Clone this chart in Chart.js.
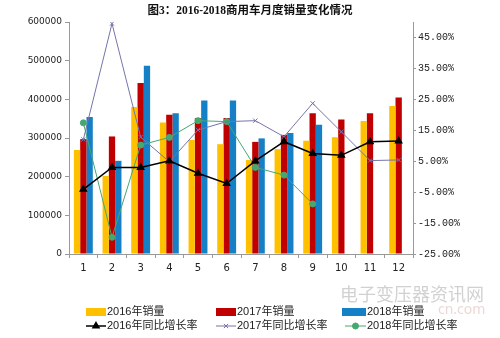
<!DOCTYPE html>
<html lang="zh">
<head>
  <meta charset="utf-8">
  <title>图3：2016-2018商用车月度销量变化情况</title>
  <script src="https://cdn.jsdelivr.net/npm/chart.js"></script>
  <style>
    html, body {
      margin: 0;
      padding: 0;
      background: #fff;
    }

    .wrap {
      position: relative;
      width: 500px;
      height: 338px;
    }

    .title {
      position: absolute;
      left: 0;
      top: 1px;
      width: 500px;
      text-align: center;
      font-family: 'Liberation Serif', 'Noto Sans CJK SC', serif;
      font-weight: bold;
      font-size: 11.5px;
      color: #111;
    }

    canvas {
      position: absolute;
      left: 0;
      top: 0;
    }
  </style>
</head>
<body>

<div class="wrap">
  <canvas id="salesChart" width="500" height="338"></canvas>
  <div class="title">图3：2016-2018商用车月度销量变化情况</div>
</div>

<script>
  // 月份
  const months = ['1', '2', '3', '4', '5', '6', '7', '8', '9', '10', '11', '12'];

  // 月度销量（辆）
  const sales2016 = [269000, 202000, 380000, 340000, 295000, 284000, 243000, 271000, 293000, 302000, 344000, 383000];
  const sales2017 = [297000, 304000, 442000, 360000, 352000, 352000, 290000, 308000, 364000, 348000, 364000, 405000];
  const sales2018 = [354000, 241000, 487000, 364000, 397000, 397000, 299000, 313000, 334000, null, null, null];

  // 同比增长率（%）
  const growth2016 = [-4.1, 3.0, 3.0, 5.1, 1.1, -2.2, 5.1, 11.3, 7.5, 6.9, 11.3, 11.5];
  const growth2017 = [12.0, 49.5, 12.8, 4.8, 15.1, 17.8, 18.1, 12.9, 23.7, 14.5, 5.2, 5.4];
  const growth2018 = [17.4, -19.6, 10.2, 12.7, 18.1, 17.8, 3.0, 0.5, -8.8, null, null, null];

  // 坐标轴刻度
  const salesTicks = [0, 100000, 200000, 300000, 400000, 500000, 600000];
  const rateTicks = [-25, -15, -5, 5, 15, 25, 35, 45];

  const axisColor = '#999';
  const textColor = '#222';

  // 图例位置
  const legendSlots = [
    { x: 86, y: 312 }, { x: 216, y: 312 }, { x: 342, y: 312 },
    { x: 86, y: 326 }, { x: 216, y: 326 }, { x: 345, y: 326 }
  ];

  const legendPlugin = {
    id: 'boxLegend',
    beforeDraw(chart) {
      let c = chart.ctx;
      c.save();
      // 水印
      c.fillStyle = 'rgba(190,190,190,0.7)';
      c.font = '18px "Noto Sans CJK SC"';
      c.textBaseline = 'middle';
      c.fillText('电子变压器资讯网', 340, 294);
      c.fillStyle = 'rgba(230,200,200,0.7)';
      c.font = '14px "Noto Sans"';
      c.fillText('cn.com', 438, 310);
      c.restore();
    },
    afterDraw(chart) {
      let c = chart.ctx;
      c.save();
      c.font = '11px "Liberation Sans", "Noto Sans CJK SC"';
      c.textBaseline = 'middle';
      chart.data.datasets.forEach((ds, i) => {
        let p = legendSlots[i];
        let w = (i === 2 || i === 5) ? 21 : 20;
        if (ds.type === 'bar') {
          c.fillStyle = ds.backgroundColor;
          c.fillRect(p.x, p.y - 4, w + (i === 2 ? 3 : 0), 8);
          c.fillStyle = textColor;
          c.fillText(ds.label, p.x + w + 1 + (i === 2 ? 3 : 0), p.y);
        } else {
          c.strokeStyle = ds.borderColor;
          c.lineWidth = ds.borderWidth;
          c.beginPath();
          c.moveTo(p.x, p.y);
          c.lineTo(p.x + w, p.y);
          c.stroke();
          c.fillStyle = ds.pointBackgroundColor;
          c.strokeStyle = ds.pointBorderColor;
          Chart.helpers.drawPoint(c, {
            pointStyle: ds.pointStyle,
            radius: ds.pointRadius,
            borderWidth: 1
          }, p.x + w / 2, p.y);
          c.fillStyle = textColor;
          c.fillText(ds.label, p.x + w + 1, p.y);
        }
      });
      c.restore();
    }
  };

  let ctx = document.getElementById('salesChart').getContext('2d');

  new Chart(ctx, {
    data: {
      labels: months,
      datasets: [
        { type: 'bar', label: '2016年销量', data: sales2016, backgroundColor: '#ffc000', yAxisID: 'y', order: 2 },
        { type: 'bar', label: '2017年销量', data: sales2017, backgroundColor: '#c00000', yAxisID: 'y', order: 2 },
        { type: 'bar', label: '2018年销量', data: sales2018, backgroundColor: '#1580c6', yAxisID: 'y', order: 2 },
        {
          type: 'line', label: '2016年同比增长率', data: growth2016, yAxisID: 'y1', order: 0,
          borderColor: '#000', borderWidth: 1.5, pointStyle: 'triangle', pointRadius: 3.5,
          pointBackgroundColor: '#000', pointBorderColor: '#000'
        },
        {
          type: 'line', label: '2017年同比增长率', data: growth2017, yAxisID: 'y1', order: 1,
          borderColor: '#7474aa', borderWidth: 1, pointStyle: 'crossRot', pointRadius: 3,
          pointBackgroundColor: '#7474aa', pointBorderColor: '#7474aa'
        },
        {
          type: 'line', label: '2018年同比增长率', data: growth2018, yAxisID: 'y1', order: 1,
          borderColor: '#45a870', borderWidth: 1, pointStyle: 'circle', pointRadius: 3,
          pointBackgroundColor: '#45a870', pointBorderColor: '#45a870'
        }
      ]
    },
    options: {
      responsive: false,
      animation: false,
      devicePixelRatio: 1,
      layout: { padding: { top: 22, bottom: 60, left: 0, right: 0 } },
      datasets: {
        bar: { categoryPercentage: 0.66, barPercentage: 1.0 },
        line: { tension: 0, spanGaps: false }
      },
      plugins: {
        legend: { display: false },
        tooltip: { enabled: false }
      },
      scales: {
        x: {
          offset: true,
          grid: { offset: true, drawOnChartArea: false, drawTicks: true, tickLength: 4, color: axisColor },
          border: { color: axisColor },
          ticks: { font: { family: 'DejaVu Sans', size: 10 }, color: textColor, padding: 4, maxRotation: 0 },
          afterFit(scale) { scale.height = 24; }
        },
        y: {
          position: 'left',
          min: 0,
          max: 600000,
          afterBuildTicks(scale) { scale.ticks = salesTicks.map(v => ({ value: v })); },
          grid: { drawOnChartArea: false, drawTicks: true, tickLength: 4, color: axisColor },
          border: { color: axisColor },
          ticks: {
            font: { family: 'DejaVu Sans', size: 9 },
            color: textColor,
            padding: 3,
            callback: v => String(v)
          },
          afterFit(scale) { scale.width = 69; }
        },
        y1: {
          position: 'right',
          min: -25,
          max: 50,
          afterBuildTicks(scale) { scale.ticks = rateTicks.map(v => ({ value: v })); },
          grid: { drawOnChartArea: false, drawTicks: true, tickLength: 3, color: axisColor },
          border: { color: axisColor },
          ticks: {
            font: { family: 'Liberation Mono', size: 10 },
            color: textColor,
            padding: 2,
            callback: v => v.toFixed(2) + '%'
          },
          afterFit(scale) { scale.width = 87; }
        }
      }
    },
    plugins: [legendPlugin]
  });
</script>

</body>
</html>
